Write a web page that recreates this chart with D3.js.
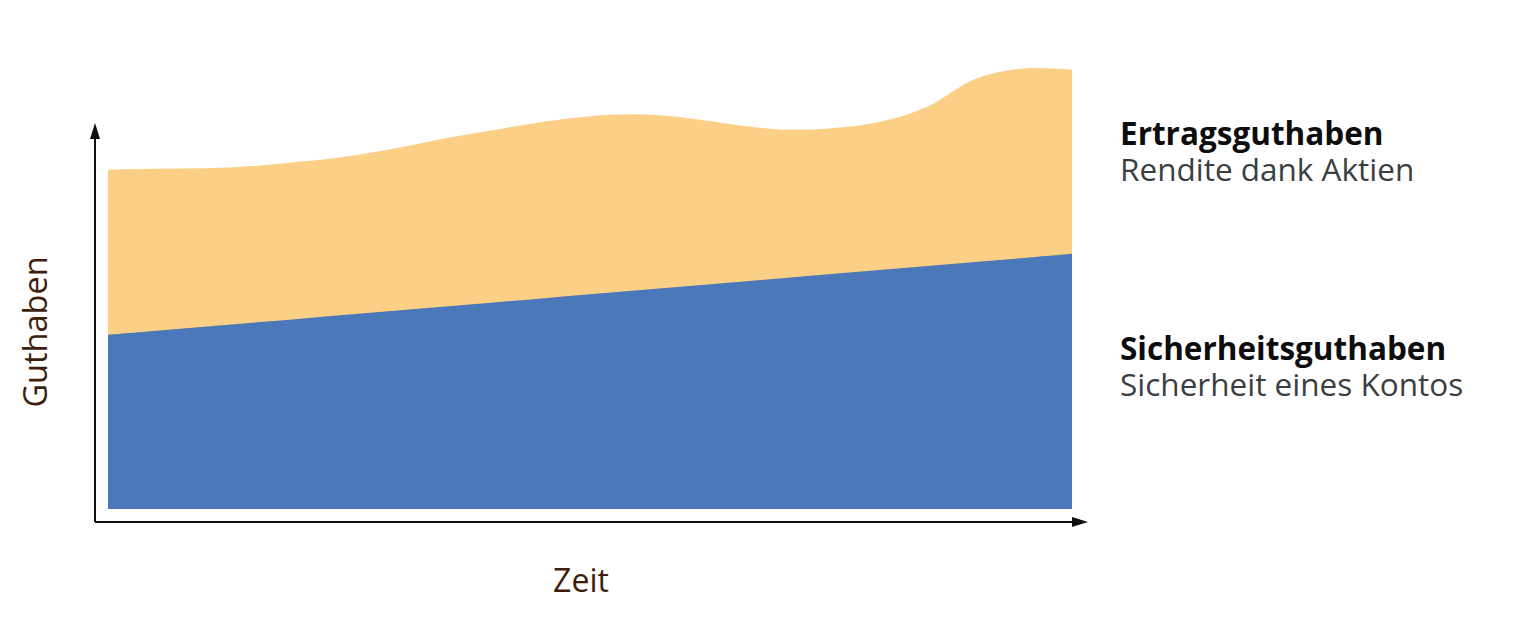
<!DOCTYPE html>
<html>
<head>
<meta charset="utf-8">
<script src="https://cdn.jsdelivr.net/npm/d3@7"></script>
<style>
  html, body { margin: 0; padding: 0; background: #fff; }
  svg { display: block; font-family: "Open Sans", "Noto Sans", sans-serif; }
</style>
</head>
<body>
<script>
// time steps (no tick labels in the chart, just an index)
const steps = d3.range(21);

// Sicherheitsguthaben: grows steadily
const safeValues = [38.7, 39.6, 40.5, 41.4, 42.3, 43.2, 44.1, 45.0, 45.9, 46.8, 47.7,
                    48.6, 49.5, 50.4, 51.3, 52.2, 53.1, 54.0, 54.9, 55.8, 56.7];

// Ertragsguthaben: return on top of the safe part
const returnValues = [36.7, 36.0, 35.2, 34.8, 34.9, 35.2, 36.1, 37.4, 38.3, 39.2, 39.6,
                      39.1, 37.4, 35.0, 33.0, 32.4, 32.9, 35.4, 40.7, 42.1, 40.9];

const legendItems = [
  {key: "ertrag", title: "Ertragsguthaben", sub: "Rendite dank Aktien"},
  {key: "sicher", title: "Sicherheitsguthaben", sub: "Sicherheit eines Kontos"}
];

const colors = {sicher: "#4a78b8", ertrag: "#fccf86"};

const width = 1536, height = 630;
const plot = {left: 108, right: 1072, top: 59, bottom: 509};

const table = steps.map((s, i) => ({step: s, sicher: safeValues[i], ertrag: returnValues[i]}));
const series = d3.stack().keys(["sicher", "ertrag"])(table);

const x = d3.scaleLinear().domain(d3.extent(steps)).range([plot.left, plot.right]);
const y = d3.scaleLinear().domain([0, 100]).range([plot.bottom, plot.top]);

const svg = d3.select("body").append("svg")
    .attr("width", width)
    .attr("height", height)
    .attr("viewBox", [0, 0, width, height]);

svg.append("defs").append("marker")
    .attr("id", "arrow")
    .attr("viewBox", "0 0 16 10")
    .attr("refX", 0)
    .attr("refY", 5)
    .attr("markerWidth", 16)
    .attr("markerHeight", 10)
    .attr("markerUnits", "userSpaceOnUse")
    .attr("orient", "auto")
  .append("path")
    .attr("d", "M0,0L16,5L0,10Z")
    .attr("fill", "#111");

// yellow drawn from the baseline so no seam shows under the blue
const areaTop = d3.area()
    .curve(d3.curveCatmullRom)
    .x((d, i) => x(steps[i]))
    .y0(y(0))
    .y1(d => y(d[1]));

const areaSafe = d3.area()
    .curve(d3.curveCatmullRom)
    .x((d, i) => x(steps[i]))
    .y0(d => y(d[0]))
    .y1(d => y(d[1]));

svg.append("path")
    .datum(series[1])
    .attr("fill", colors.ertrag)
    .attr("d", areaTop);

svg.append("path")
    .datum(series[0])
    .attr("fill", colors.sicher)
    .attr("d", areaSafe);

// axes with arrows
const axisX = plot.left - 13, axisY = plot.bottom + 13;
svg.append("line")
    .attr("x1", axisX).attr("y1", axisY)
    .attr("x2", axisX).attr("y2", y(100) + 80)
    .attr("stroke", "#111").attr("stroke-width", 2)
    .attr("marker-end", "url(#arrow)");

svg.append("line")
    .attr("x1", axisX).attr("y1", axisY)
    .attr("x2", plot.right).attr("y2", axisY)
    .attr("stroke", "#111").attr("stroke-width", 2)
    .attr("marker-end", "url(#arrow)");

svg.append("text")
    .attr("x", 581)
    .attr("y", 592)
    .attr("text-anchor", "middle")
    .attr("fill", "#3d1e0a")
    .attr("font-size", 32)
    .text("Zeit");

svg.append("text")
    .attr("transform", `translate(47,332) rotate(-90)`)
    .attr("text-anchor", "middle")
    .attr("fill", "#3d1e0a")
    .attr("font-size", 32.5)
    .text("Guthaben");

// legend
const legendY = {ertrag: 145, sicher: 360};
const legend = svg.append("g").selectAll("g")
  .data(legendItems)
  .join("g")
    .attr("transform", d => `translate(1120,${legendY[d.key]})`);

legend.append("text")
    .attr("font-size", 31.5)
    .attr("font-weight", "bold")
    .attr("fill", "#0d0d0d")
    .text(d => d.title);

legend.append("text")
    .attr("y", 36)
    .attr("font-size", 31.5)
    .attr("fill", "#3a3f42")
    .text(d => d.sub);
</script>
</body>
</html>
